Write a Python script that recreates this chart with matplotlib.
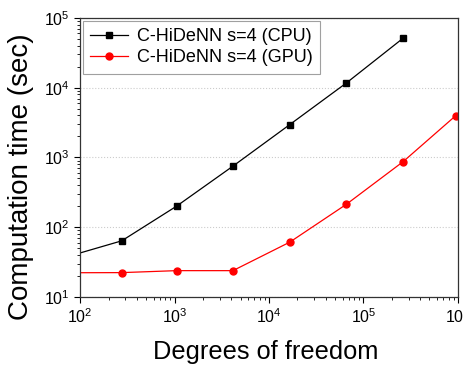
import matplotlib
matplotlib.use("Agg")
import matplotlib.pyplot as plt
from matplotlib.ticker import LogLocator, NullFormatter

plt.rcParams['font.family'] = ['Liberation Sans', 'DejaVu Sans']
plt.rcParams['mathtext.fontset'] = 'custom'
plt.rcParams['mathtext.rm'] = 'Liberation Sans'
plt.rcParams['mathtext.it'] = 'Liberation Sans:italic'
plt.rcParams['mathtext.bf'] = 'Liberation Sans:bold'

# Data (degrees of freedom vs computation time in seconds)
cpu_dof = [72, 276, 1050, 4150, 16600, 66000, 263000]
cpu_time = [37.5, 63.7, 200, 750, 2960, 11700, 51300]
gpu_dof = [72, 276, 1050, 4150, 16600, 66000, 263000, 950000]
gpu_time = [22.2, 22.3, 23.8, 23.8, 61, 213, 870, 3980]
cpu_label = "C-HiDeNN s=4 (CPU)"
gpu_label = "C-HiDeNN s=4 (GPU)"

fig = plt.figure(figsize=(4.63, 3.67), dpi=100)
ax = fig.add_axes([0.173, 0.191, 0.816, 0.760])

ax.plot(cpu_dof, cpu_time, color='black', lw=0.9, marker='s', ms=4.5,
        label=cpu_label)
ax.plot(gpu_dof, gpu_time, color='red', lw=0.9, marker='o', ms=5,
        label=gpu_label)

ax.set_xscale('log')
ax.set_yscale('log')
ax.set_xlim(1e2, 1e6)
ax.set_ylim(1e1, 1e5)

ax.xaxis.set_major_locator(LogLocator(base=10, numticks=10))
ax.yaxis.set_major_locator(LogLocator(base=10, numticks=10))
ax.xaxis.set_minor_locator(LogLocator(base=10, subs=range(2, 10), numticks=50))
ax.yaxis.set_minor_locator(LogLocator(base=10, subs=range(2, 10), numticks=50))
ax.xaxis.set_minor_formatter(NullFormatter())
ax.yaxis.set_minor_formatter(NullFormatter())

ax.tick_params(which='major', direction='out', length=4, width=0.8,
               labelsize=11.5, top=False, right=False)
ax.tick_params(which='minor', direction='out', length=2, width=0.6,
               top=False, right=False)
for s in ax.spines.values():
    s.set_linewidth(0.9)
    s.set_color('#333333')

ax.yaxis.grid(True, which='major', linestyle=':', color='#cccccc', lw=0.8)
ax.set_axisbelow(True)

ax.set_xlabel("Degrees of freedom", fontsize=18.3)
ax.set_ylabel("Computation time (sec)", fontsize=20)
ax.xaxis.set_label_coords(0.49, -0.155)
ax.yaxis.set_label_coords(-0.122, 0.432)

leg = ax.legend(loc='upper left', fontsize=13, frameon=True, fancybox=False,
                edgecolor='#888888', handlelength=2.1, borderpad=0.4,
                labelspacing=0.25, handletextpad=0.5, borderaxespad=0.15)
leg.get_frame().set_linewidth(0.8)

fig.savefig("out.png", dpi=100)
